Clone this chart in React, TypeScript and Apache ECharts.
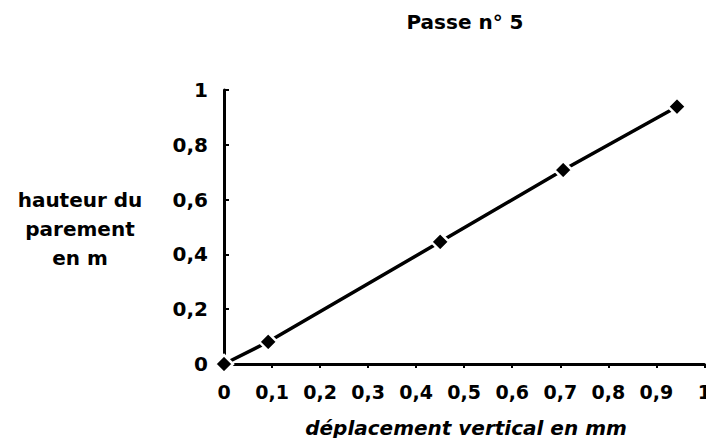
import React, { useEffect, useRef } from "react";
import * as echarts from "echarts";

const titleText = "Passe n° 5";
const xAxisName = "déplacement vertical en mm";
const yAxisNameLines = ["hauteur du", "parement", "en m"];
const xValues = [0, 0.092, 0.45, 0.706, 0.943];
const yValues = [0, 0.081, 0.446, 0.708, 0.939];

const fmt = (v: number) => {
  if (v === 0 || v === 1) return String(v);
  return v.toFixed(1).replace(".", ",");
};

const FONT = "'DejaVu Sans', sans-serif";

export default function App() {
  const ref = useRef<HTMLDivElement>(null);
  useEffect(() => {
    if (!ref.current) return;
    const chart = echarts.init(ref.current, undefined, { renderer: "svg" });
    const data = xValues.map((x, i) => [x, yValues[i]]);
    chart.setOption({
      animation: false,
      backgroundColor: "#fff",
      textStyle: { fontFamily: FONT, color: "#000" },
      grid: { left: 224, right: 4, top: 90, bottom: 82, containLabel: false },
      xAxis: {
        type: "value",
        min: 0,
        max: 1,
        interval: 0.1,
        axisLine: { show: true, lineStyle: { color: "#000", width: 3 } },
        axisTick: { show: true, inside: false, length: 4, lineStyle: { color: "#000", width: 2 } },
        splitLine: { show: false },
        axisLabel: {
          color: "#000",
          fontSize: 19,
          fontWeight: "bold",
          fontFamily: FONT,
          margin: 18,
          formatter: (v: number) => fmt(v),
        },
      },
      yAxis: {
        type: "value",
        min: 0,
        max: 1,
        interval: 0.2,
        axisLine: { show: true, lineStyle: { color: "#000", width: 3 } },
        axisTick: { show: true, inside: true, length: 5, lineStyle: { color: "#000", width: 2 } },
        splitLine: { show: false },
        axisLabel: {
          color: "#000",
          fontSize: 20,
          fontWeight: "bold",
          fontFamily: FONT,
          margin: 16,
          formatter: (v: number) => fmt(v),
        },
      },
      graphic: [
        {
          type: "text",
          x: 465,
          y: 22,
          style: {
            text: titleText,
            fontSize: 20,
            fontWeight: "bold",
            fontFamily: FONT,
            fill: "#000",
            textAlign: "center",
            textVerticalAlign: "middle",
          },
        },
        {
          type: "text",
          x: 466,
          y: 428,
          style: {
            text: xAxisName,
            fontSize: 20,
            fontStyle: "italic",
            fontWeight: "bold",
            fontFamily: FONT,
            fill: "#000",
            textAlign: "center",
            textVerticalAlign: "middle",
          },
        },
        {
          type: "text",
          x: 80,
          y: 229,
          style: {
            text: yAxisNameLines.join("\n"),
            fontSize: 20,
            fontWeight: "bold",
            lineHeight: 29,
            fontFamily: FONT,
            fill: "#000",
            textAlign: "center",
            textVerticalAlign: "middle",
          },
        },
      ],
      series: [
        {
          type: "line",
          data,
          symbol: "diamond",
          symbolSize: 18,
          lineStyle: { color: "#000", width: 3.5 },
          itemStyle: { color: "#000", borderColor: "#fff", borderWidth: 2.5 },
          z: 5,
        },
      ],
    });
    return () => chart.dispose();
  }, []);
  return <div ref={ref} style={{ width: 714, height: 446, margin: -8 }} />;
}
